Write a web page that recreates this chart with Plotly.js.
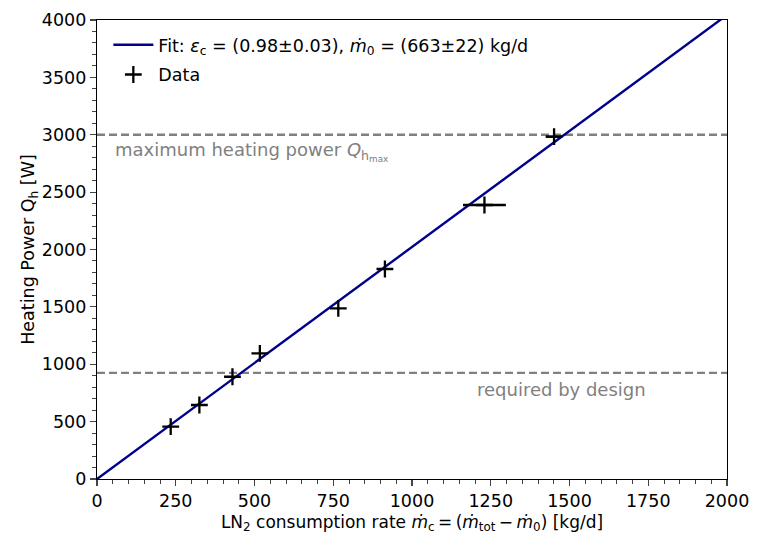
<!DOCTYPE html>
<html>
<head>
<meta charset="utf-8">
<script src="https://cdn.plot.ly/plotly-3.0.1.min.js"></script>
<style>
  body { margin: 0; background: #fff; }
  #plot { width: 762px; height: 551px; }
</style>
</head>
<body>
<div id="plot"></div>
<script>
// measured points: LN2 consumption rate [kg/d] vs heating power [W]
var rate = [234, 325, 430, 517, 766, 914, 1230, 1451];
var power = [456, 645, 891, 1095, 1487, 1830, 2388, 2983];
var rateErr = [0, 0, 0, 0, 0, 0, 68, 26];

// linear fit through the origin
var fitRate = [0, 2000];
var fitPower = [0, 4044];

var maxPower = 3000;
var designPower = 925;

var font = '"DejaVu Sans", sans-serif';

var fit = {
    x: fitRate,
    y: fitPower,
    mode: 'lines',
    legendgroup: 'fit',
    name: 'Fit: <i>ε</i><sub>c</sub> = (0.98±0.03), <i>ṁ</i><sub>0</sub> = (663±22) kg/d',
    line: {color: '#00008b', width: 2.4}
};

var data = {
    x: rate,
    y: power,
    mode: 'markers',
    legendgroup: 'data',
    name: 'Data',
    marker: {symbol: 'cross-thin', size: 12, color: 'black', line: {color: 'black', width: 2.3}},
    error_x: {type: 'data', array: rateErr, visible: true, width: 0, thickness: 2.3, color: 'black'}
};

var layout = {
    width: 762,
    height: 551,
    margin: {l: 97, r: 35, t: 20, b: 72},
    paper_bgcolor: 'white',
    plot_bgcolor: 'white',
    font: {family: font, size: 17, color: 'black'},
    showlegend: true,
    legend: {
        x: 0.018, y: 0.985, xanchor: 'left', yanchor: 'top',
        bgcolor: 'rgba(255,255,255,0)',
        traceorder: 'grouped', tracegroupgap: 4, itemwidth: 40,
        font: {family: font, size: 17.5}
    },
    xaxis: {
        range: [0, 2000],
        tickvals: [0, 250, 500, 750, 1000, 1250, 1500, 1750, 2000],
        tickfont: {family: font, size: 17.5, color: 'black'},
        ticks: 'outside', ticklen: 6, tickwidth: 1.2,
        minor: {dtick: 50, ticks: 'outside', ticklen: 3.5, tickwidth: 1},
        showline: true, linecolor: 'black', linewidth: 1.2, mirror: true,
        showgrid: false, zeroline: false,
        title: {text: 'LN<sub>2</sub> consumption rate <i>ṁ</i><sub>c</sub>\u2009=\u2009(<i>ṁ</i><sub>tot</sub>\u2009−\u2009<i>ṁ</i><sub>0</sub>) [kg/d]',
                font: {family: font, size: 17}, standoff: 5}
    },
    yaxis: {
        range: [0, 4000],
        dtick: 500,
        tickfont: {family: font, size: 17.5, color: 'black'},
        ticks: 'outside', ticklen: 6, tickwidth: 1.2,
        minor: {dtick: 100, ticks: 'outside', ticklen: 3.5, tickwidth: 1},
        showline: true, linecolor: 'black', linewidth: 1.2, mirror: true,
        showgrid: false, zeroline: false,
        title: {text: 'Heating Power Q<sub>h</sub> [W]', font: {family: font, size: 17.5}, standoff: 2}
    },
    shapes: [
        {type: 'line', xref: 'paper', x0: 0, x1: 1, yref: 'y', y0: maxPower, y1: maxPower,
         line: {color: '#808080', width: 2.3, dash: '8px,4px'}, layer: 'below'},
        {type: 'line', xref: 'paper', x0: 0, x1: 1, yref: 'y', y0: designPower, y1: designPower,
         line: {color: '#808080', width: 2.3, dash: '8px,4px'}, layer: 'below'}
    ],
    annotations: [
        {x: 51, y: 2850, xref: 'x', yref: 'y', xanchor: 'left', yanchor: 'middle', showarrow: false,
         text: 'maximum heating power <i>Q</i><sub>h<sub>max</sub></sub>',
         font: {family: font, size: 18, color: '#808080'}},
        {x: 1200, y: 776, xref: 'x', yref: 'y', xanchor: 'left', yanchor: 'middle', showarrow: false,
         text: 'required by design',
         font: {family: font, size: 18, color: '#808080'}}
    ]
};

Plotly.newPlot('plot', [fit, data], layout, {staticPlot: true});
</script>
</body>
</html>
